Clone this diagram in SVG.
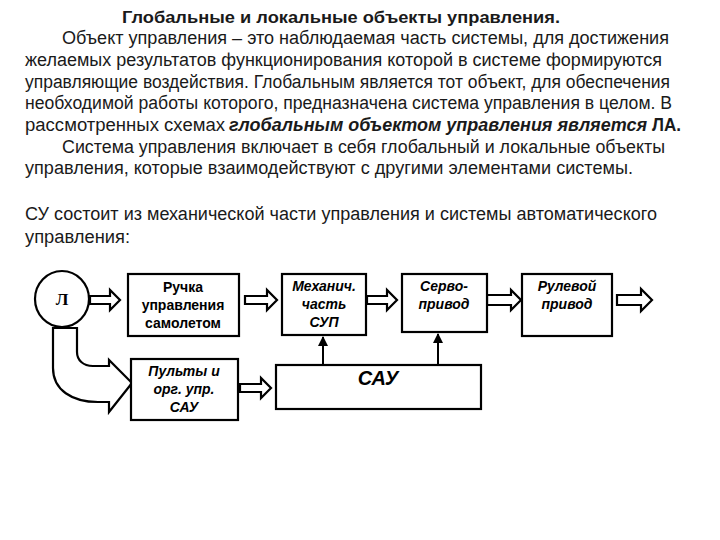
<svg xmlns="http://www.w3.org/2000/svg" width="720" height="540" viewBox="0 0 720 540">
<defs>
<style>
.t{font-family:"Liberation Sans",Arial,sans-serif;font-size:18px;fill:#1a1a1a}
.tb{font-family:"Liberation Sans",Arial,sans-serif;font-size:17px;font-weight:bold;fill:#1a1a1a}
.tbi{font-family:"Liberation Sans",Arial,sans-serif;font-size:18px;font-weight:bold;font-style:italic;fill:#1a1a1a}
.box{fill:#fff;stroke:#000;stroke-width:2.2}
.lb{font-family:"Liberation Sans",Arial,sans-serif;font-size:14px;font-weight:bold;fill:#000;text-anchor:middle}
.li{font-family:"Liberation Sans",Arial,sans-serif;font-size:14px;font-weight:bold;font-style:italic;fill:#000;text-anchor:middle}
.ha{fill:#fff;stroke:#000;stroke-width:2.2;stroke-linejoin:miter}
.ln{stroke:#000;stroke-width:2;fill:none}
</style>
<marker id="ah" viewBox="0 0 10 10" refX="9" refY="5" markerWidth="5" markerHeight="5" orient="auto" markerUnits="strokeWidth">
<path d="M0,0 L10,5 L0,10 Z" fill="#000"/>
</marker>
</defs>
<rect width="720" height="540" fill="#fff"/>
<g id="text">
<text class="tb" x="122" y="23" textLength="438" lengthAdjust="spacingAndGlyphs">Глобальные и локальные объекты управления.</text>
<text class="t" x="62" y="44" textLength="607" lengthAdjust="spacingAndGlyphs">Объект управления – это наблюдаемая часть системы, для достижения</text>
<text class="t" x="25" y="66" textLength="637" lengthAdjust="spacingAndGlyphs">желаемых результатов функционирования которой в системе формируются</text>
<text class="t" x="25" y="88" textLength="645" lengthAdjust="spacingAndGlyphs">управляющие воздействия. Глобальным является тот объект, для обеспечения</text>
<text class="t" x="25" y="109" textLength="647" lengthAdjust="spacingAndGlyphs">необходимой работы которого, предназначена система управления в целом. В</text>
<text class="t" x="25" y="131" textLength="200" lengthAdjust="spacingAndGlyphs">рассмотренных схемах</text>
<text class="tbi" x="229" y="131" textLength="418" lengthAdjust="spacingAndGlyphs">глобальным объектом управления является</text>
<text class="tb" x="652" y="131" textLength="29" lengthAdjust="spacingAndGlyphs" style="font-size:18px">ЛА.</text>
<text class="t" x="62" y="153" textLength="603" lengthAdjust="spacingAndGlyphs">Система управления включает в себя глобальный и локальные объекты</text>
<text class="t" x="25" y="174" textLength="608" lengthAdjust="spacingAndGlyphs">управления, которые взаимодействуют с другими элементами системы.</text>
<text class="t" x="25" y="220" textLength="632" lengthAdjust="spacingAndGlyphs">СУ состоит из механической части управления и системы автоматического</text>
<text class="t" x="25" y="243" textLength="105" lengthAdjust="spacingAndGlyphs">управления:</text>
</g>
<g id="connectors">
<path class="ha" d="M53,328 L53,368 C53,390 72,402 98,402 L109,402 L109,412 L132,383 L109,360 L109,366 L93,366 C83,366 77,360 77,352 L77,328 Z"/>
<path class="ha" d="M90,296 L110,296 L110,290 L120,300 L110,310 L110,304 L90,304 Z"/>
<path class="ha" d="M245,296 L267,296 L267,290 L277,300 L267,310 L267,304 L245,304 Z"/>
<path class="ha" d="M367,296 L387,296 L387,290 L397,300 L387,310 L387,304 L367,304 Z"/>
<path class="ha" d="M487,295 L511,295 L511,290 L521,300 L511,310 L511,305 L487,305 Z"/>
<path class="ha" d="M617,296 L641,296 L641,290 L652,301 L641,312 L641,306 L617,306 Z" transform="translate(0,-1)"/>
<path class="ha" d="M240,384 L261,384 L261,378 L271,388 L261,398 L261,392 L240,392 Z"/>
<line class="ln" x1="323" y1="364" x2="323" y2="337" marker-end="url(#ah)"/>
<line class="ln" x1="438" y1="364" x2="438" y2="334" marker-end="url(#ah)"/>
</g>
<g id="node-L">
<ellipse class="box" cx="62" cy="299" rx="27" ry="28"/>
<text x="62" y="305" style="font-family:'Liberation Serif','Times New Roman',serif;font-size:17px;font-weight:bold;text-anchor:middle">Л</text>
</g>
<g id="node-ruchka">
<rect class="box" x="128" y="274" width="111" height="62"/>
<text class="lb" x="183" y="292">Ручка</text>
<text class="lb" x="183" y="310">управления</text>
<text class="lb" x="183" y="328">самолетом</text>
</g>
<g id="node-mech">
<rect class="box" x="282" y="274" width="84" height="61"/>
<text class="li" x="324" y="291">Механич.</text>
<text class="li" x="324" y="309">часть</text>
<text class="li" x="324" y="327">СУП</text>
</g>
<g id="node-servo">
<rect class="box" x="402" y="274" width="85" height="58"/>
<text class="li" x="444" y="291">Серво-</text>
<text class="li" x="444" y="309">привод</text>
</g>
<g id="node-rul">
<rect class="box" x="522" y="274" width="90" height="62"/>
<text class="li" x="567" y="291">Рулевой</text>
<text class="li" x="567" y="309">привод</text>
</g>
<g id="node-pulty">
<rect class="box" x="131" y="359" width="107" height="61"/>
<text class="li" x="184" y="376">Пульты и</text>
<text class="li" x="184" y="394">орг. упр.</text>
<text class="li" x="184" y="412">САУ</text>
</g>
<g id="node-sau">
<rect class="box" x="276" y="365" width="205" height="44"/>
<text class="li" x="378" y="385" style="font-size:20px">САУ</text>
</g>
</svg>
